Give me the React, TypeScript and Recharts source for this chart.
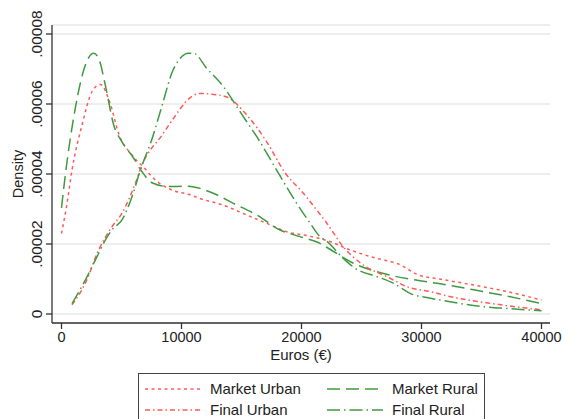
import React from "react";
import { LineChart, Line, XAxis, YAxis, CartesianGrid } from "recharts";

const FONT = "'Liberation Sans', Arial, Helvetica, sans-serif";
const RED = "#ff5a5a";
const GREEN = "#3f9a3f";
const AXIS = "#333333";

const xTicks = [0, 10000, 20000, 30000, 40000];
const xTickLabels = ["0", "10000", "20000", "30000", "40000"];
const yTicks = [0, 0.00002, 0.00004, 0.00006, 0.00008];
const yTickLabels = ["0", ".00002", ".00004", ".00006", ".00008"];
const xTitle = "Euros (€)";
const yTitle = "Density";
const seriesNames = ["Market Urban", "Market Rural", "Final Urban", "Final Rural"];

// [euros, density]
const marketUrban: [number, number][] = [
  [0, 0.0000230], [460, 0.0000316], [875, 0.0000411], [1710, 0.0000540],
  [2540, 0.0000635], [3230, 0.0000656], [4070, 0.0000600], [4770, 0.0000515],
  [5875, 0.0000454], [6980, 0.0000414], [7540, 0.0000392], [9210, 0.0000354],
  [10600, 0.0000342], [11540, 0.0000330], [13480, 0.0000311], [15430, 0.0000283],
  [17100, 0.0000259], [18770, 0.0000235], [20430, 0.0000224], [22375, 0.0000207],
  [23900, 0.0000185], [26270, 0.0000159], [27930, 0.0000145], [29875, 0.0000110],
  [31500, 0.0000100], [34000, 0.0000085], [37000, 0.0000065], [40000, 0.0000040],
];

const marketRural: [number, number][] = [
  [0, 0.0000303], [317, 0.0000397], [1150, 0.0000588], [1983, 0.0000711],
  [2680, 0.0000745], [3100, 0.0000730], [3650, 0.0000654], [4350, 0.0000540],
  [5040, 0.0000492], [6017, 0.0000445], [6700, 0.0000407], [7540, 0.0000375],
  [8930, 0.0000364], [10320, 0.0000365], [11125, 0.0000362], [12650, 0.0000345],
  [14320, 0.0000316], [16270, 0.0000283], [18210, 0.0000240], [19875, 0.0000221],
  [21540, 0.0000202], [22375, 0.0000185], [24320, 0.0000145], [26270, 0.0000121],
  [27375, 0.0000111], [29875, 0.0000095], [31800, 0.0000085], [34360, 0.0000069],
  [37000, 0.0000052], [40000, 0.0000030],
];

const finalUrban: [number, number][] = [
  [875, 0.0000026], [1983, 0.0000088], [3100, 0.0000183], [4200, 0.0000249],
  [5040, 0.0000288], [6150, 0.0000373], [6700, 0.0000425], [8375, 0.0000511],
  [9875, 0.0000585], [10320, 0.0000605], [11540, 0.0000630], [12500, 0.0000628],
  [13770, 0.0000620], [15430, 0.0000569], [17100, 0.0000492], [18600, 0.0000405],
  [20150, 0.0000345], [21540, 0.0000285], [22100, 0.0000260], [23480, 0.0000192],
  [25150, 0.0000140], [27100, 0.0000107], [29040, 0.0000075], [30750, 0.0000064],
  [32100, 0.0000052], [36270, 0.0000028], [40000, 0.0000012],
];

const finalRural: [number, number][] = [
  [875, 0.0000030], [1983, 0.0000097], [2817, 0.0000154], [3650, 0.0000211],
  [4200, 0.0000240], [5040, 0.0000269], [5875, 0.0000335], [6570, 0.0000411],
  [7540, 0.0000500], [8375, 0.0000595], [9210, 0.0000690], [9875, 0.0000730],
  [10600, 0.0000745], [11000, 0.0000745], [12100, 0.0000702], [13480, 0.0000650],
  [14875, 0.0000578], [16540, 0.0000492], [17930, 0.0000411], [19600, 0.0000316],
  [20710, 0.0000260], [21540, 0.0000221], [22100, 0.0000208], [23480, 0.0000159],
  [24500, 0.0000130], [26270, 0.0000107], [27650, 0.0000088], [29040, 0.0000059],
  [30750, 0.0000045], [31540, 0.0000040], [34875, 0.0000022], [37500, 0.0000015],
  [40000, 0.0000009],
];

const toPts = (arr: [number, number][]) => arr.map(([x, y]) => ({ x, y }));

const series = [
  { name: seriesNames[0], data: toPts(marketUrban), color: RED, dash: "3 3.5" },
  { name: seriesNames[1], data: toPts(marketRural), color: GREEN, dash: "13 6" },
  { name: seriesNames[2], data: toPts(finalUrban), color: RED, dash: "5 3 1.5 3" },
  { name: seriesNames[3], data: toPts(finalRural), color: GREEN, dash: "13 4 1.5 4" },
];

const XTick = (props: any) => {
  const { x, y, payload, index } = props;
  const i = xTicks.indexOf(payload.value);
  return (
    <text x={x} y={y} dy={10.5} textAnchor="middle" fontSize={14.5} fontFamily={FONT} fill="#222">
      {xTickLabels[i >= 0 ? i : index]}
    </text>
  );
};

const YTick = (props: any) => {
  const { x, y, payload, index } = props;
  const i = yTicks.indexOf(payload.value);
  return (
    <text
      transform={`translate(${x - 2.5},${y}) rotate(-90)`}
      textAnchor="middle"
      fontSize={15.5}
      fontFamily={FONT}
      fill="#222"
    >
      {yTickLabels[i >= 0 ? i : index]}
    </text>
  );
};

const XTitle = (props: any) => {
  const vb = props.viewBox || {};
  return (
    <text x={vb.x + vb.width / 2} y={vb.y + 37} textAnchor="middle" fontSize={15} fontFamily={FONT} fill="#222">
      {xTitle}
    </text>
  );
};

const YTitle = (props: any) => {
  const vb = props.viewBox || {};
  return (
    <text
      transform={`translate(${vb.x + 23},${vb.y + vb.height / 2}) rotate(-90)`}
      textAnchor="middle"
      fontSize={14.5}
      fontFamily={FONT}
      fill="#222"
    >
      {yTitle}
    </text>
  );
};

const LegendBox = () => {
  const rows = [
    [series[0], series[1]],
    [series[2], series[3]],
  ];
  return (
    <div
      style={{
        position: "absolute",
        left: 138,
        top: 373,
        width: 347,
        height: 60,
        border: "1px solid #444",
        boxSizing: "border-box",
        fontFamily: FONT,
        fontSize: 15,
        color: "#222",
        background: "#fff",
      }}
    >
      {rows.map((row, r) => (
        <div key={r} style={{ position: "absolute", left: 0, top: 6 + r * 21, height: 18, width: "100%" }}>
          {row.map((s, c) => (
            <div key={s.name} style={{ position: "absolute", left: 6 + c * 182, top: 0, height: 18, display: "flex", alignItems: "center" }}>
              <svg width={56} height={18} style={{ display: "block" }}>
                <line x1={0} y1={9} x2={56} y2={9} stroke={s.color} strokeWidth={1.5} strokeDasharray={s.dash} />
              </svg>
              <span style={{ marginLeft: 9, whiteSpace: "nowrap", lineHeight: "18px" }}>{s.name}</span>
            </div>
          ))}
        </div>
      ))}
    </div>
  );
};

export default function App() {
  return (
    <div style={{ position: "absolute", left: 0, top: 0, width: 587, height: 419, background: "#fff", overflow: "hidden" }}>
      <LineChart width={587} height={419} margin={{ top: 25, right: 37, bottom: 51, left: 0 }}>
        <CartesianGrid vertical={false} horizontal stroke="#e8e8e8" strokeWidth={1.5} />
        <XAxis
          type="number"
          dataKey="x"
          domain={[-792, 40708]}
          ticks={xTicks}
          allowDataOverflow
          height={45}
          tickSize={6}
          tick={<XTick />}
          axisLine={{ stroke: AXIS, strokeWidth: 1.3 }}
          tickLine={{ stroke: AXIS, strokeWidth: 1.3 }}
          label={<XTitle />}
        />
        <YAxis
          type="number"
          dataKey="y"
          domain={[-0.00000257, 0.00008257]}
          ticks={yTicks}
          allowDataOverflow
          width={52}
          tickSize={6}
          tick={<YTick />}
          axisLine={{ stroke: AXIS, strokeWidth: 1.3 }}
          tickLine={{ stroke: AXIS, strokeWidth: 1.3 }}
          label={<YTitle />}
        />
        {series.map((s) => (
          <Line
            key={s.name}
            name={s.name}
            data={s.data}
            dataKey="y"
            type="monotone"
            stroke={s.color}
            strokeWidth={1.5}
            strokeDasharray={s.dash}
            dot={false}
            activeDot={false}
            isAnimationActive={false}
          />
        ))}
      </LineChart>
      <LegendBox />
    </div>
  );
}
